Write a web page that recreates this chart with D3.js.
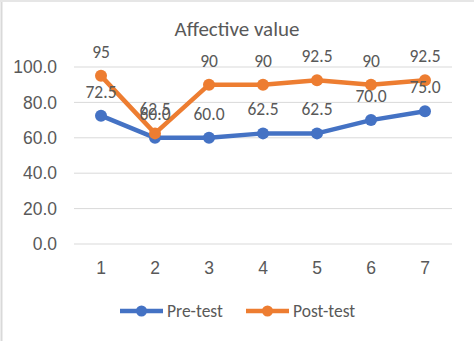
<!DOCTYPE html>
<html><head><meta charset="utf-8">
<script src="https://cdn.jsdelivr.net/npm/d3@7"></script>
<style>body{margin:0;background:#fff}svg{display:block;font-family:Calibri,Carlito,"Open Sans",sans-serif}</style>
</head><body>
<svg id="c" width="474" height="341"></svg>
<script>
const categories = ["1","2","3","4","5","6","7"];
const preTest = [72.5, 60.0, 60.0, 62.5, 62.5, 70.0, 75.0];
const postTest = [95, 62.5, 90, 90, 92.5, 90, 92.5];
const preLabels = ["72.5","60.0","60.0","62.5","62.5","70.0","75.0"];
const postLabels = ["95","62.5","90","90","92.5","90","92.5"];
const yTicks = [0, 20, 40, 60, 80, 100];
const seriesNames = ["Pre-test", "Post-test"];
const colors = ["#4472C4", "#ED7D31"];

const svg = d3.select("#c");
const W = 474, H = 341;
const m = {l: 74, r: 22, t: 67, b: 97};
const x = d3.scaleBand().domain(categories).range([m.l, W - m.r]);
const y = d3.scaleLinear().domain([0, 100]).range([H - m.b, m.t]);
const textCol = "#595959";
const fs = 17.5;

// outer border (left & top visible)
svg.append("line").attr("x1",1.5).attr("x2",1.5).attr("y1",0).attr("y2",H).attr("stroke","#d9d9d9").attr("stroke-width",2);
svg.append("line").attr("x1",0).attr("x2",W).attr("y1",1).attr("y2",1).attr("stroke","#e6e6e6").attr("stroke-width",2);

// gridlines
svg.append("g").selectAll("line").data(yTicks).join("line")
  .attr("x1", m.l).attr("x2", W - m.r)
  .attr("y1", d => y(d)).attr("y2", d => y(d))
  .attr("stroke", "#d9d9d9").attr("stroke-width", 1);

// y axis labels
const yAxis = d3.axisLeft(y).tickValues(yTicks).tickFormat(d3.format(".1f")).tickSize(0).tickPadding(17);
const gy = svg.append("g").attr("transform", `translate(${m.l},0)`).call(yAxis);
gy.select(".domain").remove();
gy.selectAll("text").attr("fill", textCol).attr("font-size", fs).attr("font-family", null);

// x axis labels
const xAxis = d3.axisBottom(x).tickSize(0).tickPadding(18);
const gx = svg.append("g").attr("transform", `translate(0,${y(0)})`).call(xAxis);
gx.select(".domain").remove();
gx.selectAll("text").attr("fill", textCol).attr("font-size", fs).attr("font-family", null);

// title
svg.append("text").attr("x", 237).attr("y", 36).attr("text-anchor", "middle")
  .attr("fill", textCol).attr("font-size", 21).text("Affective value");

const cx = d => x(d) + x.bandwidth() / 2;
const data = [preTest, postTest];
const labels = [preLabels, postLabels];
const line = d3.line().x((d, i) => cx(categories[i])).y(d => y(d));

data.forEach((vals, s) => {
  svg.append("path").datum(vals).attr("d", line).attr("fill", "none")
    .attr("stroke", colors[s]).attr("stroke-width", 4.5).attr("stroke-linejoin", "round");
  svg.append("g").selectAll("circle").data(vals).join("circle")
    .attr("cx", (d, i) => cx(categories[i])).attr("cy", d => y(d)).attr("r", 6)
    .attr("fill", colors[s]);
});
data.forEach((vals, s) => {
  svg.append("g").selectAll("text").data(vals).join("text")
    .attr("x", (d, i) => cx(categories[i])).attr("y", d => y(d) - 18)
    .attr("text-anchor", "middle").attr("fill", textCol).attr("font-size", fs)
    .text((d, i) => labels[s][i]);
});

// legend
const legX = [120, 246];
seriesNames.forEach((n, s) => {
  const g = svg.append("g");
  g.append("line").attr("x1", legX[s]).attr("x2", legX[s] + 43).attr("y1", 311).attr("y2", 311)
    .attr("stroke", colors[s]).attr("stroke-width", 4.5);
  g.append("circle").attr("cx", legX[s] + 21.5).attr("cy", 311).attr("r", 5.5).attr("fill", colors[s]);
  g.append("text").attr("x", legX[s] + 47).attr("y", 317).attr("fill", textCol).attr("font-size", fs).text(n);
});
</script>
</body></html>
